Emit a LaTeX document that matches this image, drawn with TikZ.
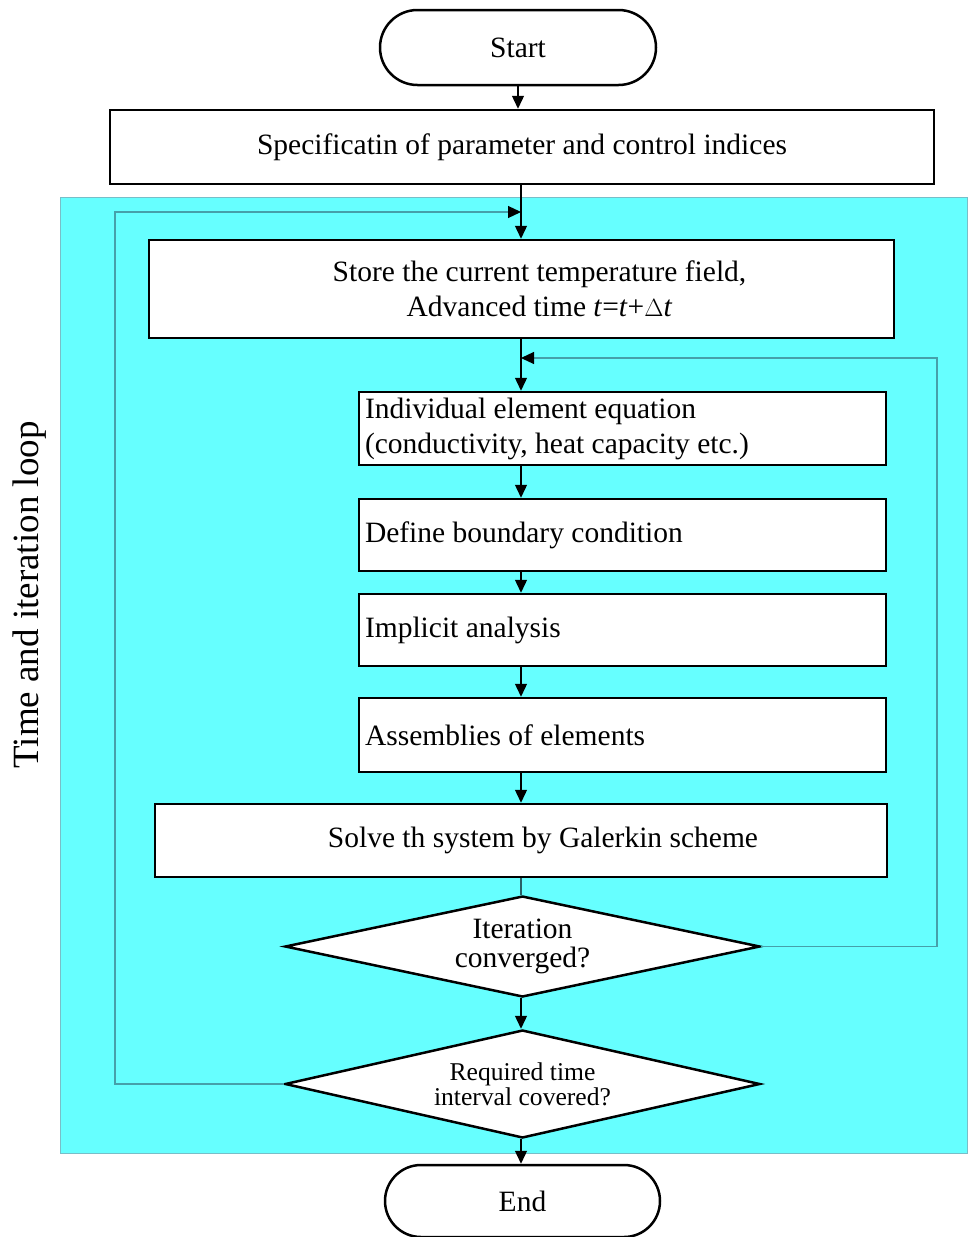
\documentclass[tikz,border=0pt]{standalone}
\usepackage{fontspec}
\setmainfont{Liberation Serif}
\usetikzlibrary{arrows.meta,shapes.geometric,shapes.misc}
\definecolor{bgcyan}{RGB}{102,255,255}
\definecolor{loopc}{RGB}{70,160,170}
\definecolor{bgedge}{RGB}{120,190,200}
\begin{document}
\begin{tikzpicture}[x=1pt,y=-1pt,
  every node/.style={font=\fontsize{29.5}{35}\selectfont},
  box/.style={draw,line width=2.5pt,fill=white,rectangle,inner sep=0pt,align=center},
  lbox/.style={box,text width=515pt,align=flush left},
  term/.style={draw,line width=2.5pt,fill=white,rounded rectangle,inner sep=0pt},
  dec/.style={draw,line width=2.5pt,fill=white,diamond,inner sep=0pt,align=center},
  flow/.style={line width=1.3pt,-{Triangle[length=13pt,width=12pt]}},
  plain/.style={line width=1.2pt,draw=loopc!60!black},
  loopline/.style={line width=1.2pt,draw=loopc,-{Triangle[length=13pt,width=12pt,color=black]}}]
\useasboundingbox (0,0) rectangle (967,1237);
% background
\fill[bgcyan,draw=bgedge,line width=1pt] (60,197) rectangle (967,1153);
\node[rotate=90,font=\fontsize{37}{40}\selectfont] (lbl) at (30,595) {Time and iteration loop};
% nodes
\node[term,minimum width=276pt,minimum height=75pt] (start) at (518,47.5) {Start};
\node[box,minimum width=824pt,minimum height=74pt] (b1) at (522,147) {Specificatin of parameter and control indices};
\node[box,minimum width=745pt,minimum height=98pt] (b2) at (521.5,289) {\hspace*{36pt}Store the current temperature field,\\\hspace*{36pt}Advanced time \textit{t}=\textit{t}+$\Delta$\textit{t}};
\node[lbox,minimum width=527pt,minimum height=73pt] (b3) at (622.5,428.5) {Individual element equation\\(conductivity, heat capacity etc.)};
\node[lbox,minimum width=527pt,minimum height=72pt] (b4) at (622.5,535) {Define boundary condition};
\node[lbox,minimum width=527pt,minimum height=72pt] (b5) at (622.5,630) {Implicit analysis};
\node[lbox,minimum width=527pt,minimum height=74pt] (b6) at (622.5,735) {Assemblies of elements};
\node[box,minimum width=732pt,minimum height=73pt] (b7) at (521,840.5) {\hspace*{44pt}Solve th system by Galerkin scheme};
\node[dec,shape aspect=4.7,minimum width=475pt,minimum height=101pt,font=\fontsize{29.5}{29}\selectfont] (d1) at (522.5,946.5) {Iteration\\converged?};
\node[dec,shape aspect=4.4,minimum width=475pt,minimum height=108pt,font=\fontsize{25.6}{25}\selectfont] (d2) at (522.5,1084) {Required time\\interval covered?};
\node[term,minimum width=275pt,minimum height=72pt] (end) at (522.5,1201) {End};
% column coordinate
\coordinate (col) at (521,0);
\coordinate (lt) at (115,212);
\coordinate (j1) at (521,212);
\coordinate (rt) at (937,358);
\coordinate (j2) at (521,358);
% flow
\draw[flow] (start.south) -- (start.south |- b1.north);
\draw[flow] (col |- b1.south) -- (col |- b2.north);
\draw[flow] (col |- b2.south) -- (col |- b3.north);
\draw[flow] (col |- b3.south) -- (col |- b4.north);
\draw[flow] (col |- b4.south) -- (col |- b5.north);
\draw[flow] (col |- b5.south) -- (col |- b6.north);
\draw[flow] (col |- b6.south) -- (col |- b7.north);
\draw[plain] (col |- b7.south) -- (col |- d1.north);
\draw[flow] (col |- d1.south) -- (col |- d2.north);
\draw[flow] (col |- d2.south) -- (col |- end.north);
% loops
\draw[loopline] (d2.west) -| (lt) -- (j1);
\draw[loopline] (d1.east) -| (rt) -- (j2);
\end{tikzpicture}
\end{document}
